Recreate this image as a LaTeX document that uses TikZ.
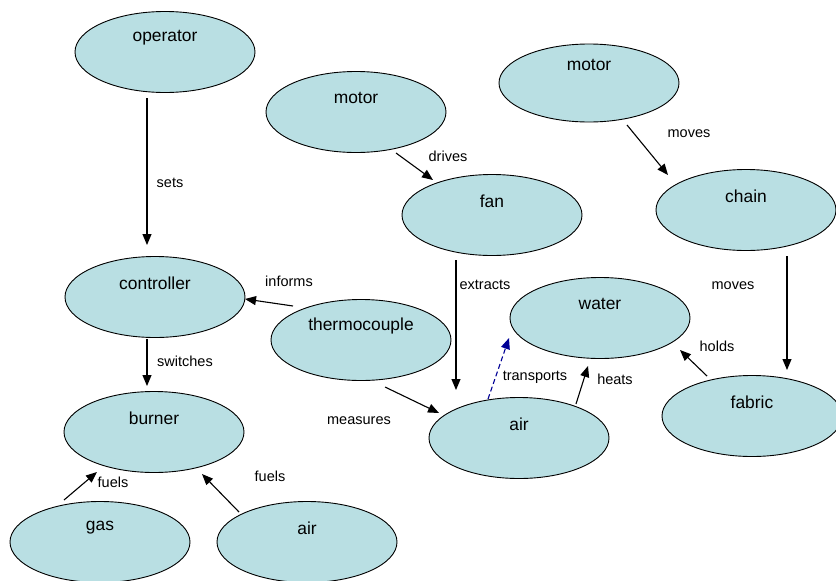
\documentclass[tikz,border=0pt]{standalone}
\usepackage{fontspec}
\setmainfont{Liberation Sans}
\usetikzlibrary{shapes.geometric,arrows.meta}
\definecolor{conceptfill}{RGB}{185,223,227}
\definecolor{linkblue}{RGB}{0,0,150}
\begin{document}
\begin{tikzpicture}[x=1pt,y=-1pt,
  concept/.style={ellipse, draw=black, line width=0.9pt, fill=conceptfill,
    minimum width=180pt, minimum height=81pt, inner sep=0pt},
  ctext/.style={font=\fontsize{17.4pt}{19pt}\selectfont, inner sep=0pt, anchor=base, yshift=14pt},
  lbl/.style={font=\fontsize{14.5pt}{16pt}\selectfont, inner sep=0pt},
  link/.style={line width=1.1pt, -{Triangle[length=11pt,width=9pt]}},
  dlink/.style={link, draw=linkblue, dashed, dash pattern=on 5pt off 3pt}]
\useasboundingbox (0,0) rectangle (836,581);

% concepts
\node[concept, label={[ctext]center:operator}] (op) at (165,52) {};
\node[concept, label={[ctext]center:motor}] (mA) at (356,112) {};
\node[concept, label={[ctext]center:fan}] (fan) at (492,215) {};
\node[concept, minimum height=78pt, label={[ctext,yshift=4pt]center:motor}] (mB) at (589,83) {};
\node[concept, label={[ctext]center:chain}] (chain) at (746,210) {};
\node[concept, label={[ctext]center:controller}] (ctrl) at (155,297) {};
\node[concept, label={[ctext]center:thermocouple}] (thermo) at (361,340) {};
\node[concept, label={[ctext]center:water}] (water) at (600,318) {};
\node[concept, label={[ctext]center:fabric}] (fabric) at (752,416) {};
\node[concept, label={[ctext]center:burner}] (burner) at (154,432) {};
\node[concept, label={[ctext]center:air}] (airM) at (519,438) {};
\node[concept, label={[ctext]center:gas}] (gas) at (100,542) {};
\node[concept, label={[ctext]center:air}] (airB) at (307,542) {};

% links
\draw[link] ([shift={(-18,46)}]op.center) -- ([shift={(-8,-52)}]ctrl.center);
\draw[link] ([shift={(40,41)}]mA.center) -- ([shift={(-59,-35)}]fan.center);
\draw[link] ([shift={(38,42)}]mB.center) -- ([shift={(-78,-35)}]chain.center);
\draw[link] ([shift={(41,46)}]chain.center) -- ([shift={(35,-46)}]fabric.center);
\draw[link] ([shift={(-36,45)}]fan.center) -- ([shift={(-63,-48)}]airM.center);
\draw[link] ([shift={(-68,-34)}]thermo.center) -- ([shift={(90,2)}]ctrl.center);
\draw[link] ([shift={(-8,42)}]ctrl.center) -- ([shift={(-7,-46)}]burner.center);
\draw[link] ([shift={(24,47)}]thermo.center) -- ([shift={(-80,-25)}]airM.center);
\draw[dlink] ([shift={(-31,-39)}]airM.center) -- ([shift={(-91,20)}]water.center);
\draw[link] ([shift={(57,-34)}]airM.center) -- ([shift={(-12,48)}]water.center);
\draw[link] ([shift={(-45,-40)}]fabric.center) -- ([shift={(80,32)}]water.center);
\draw[link] ([shift={(-36,-42)}]gas.center) -- ([shift={(-57,40)}]burner.center);
\draw[link] ([shift={(-68,-30)}]airB.center) -- ([shift={(48,42)}]burner.center);

% link labels
\node[lbl] (lsets) at (170,183) {sets};
\node[lbl] (ldrives) at (448,156) {drives};
\node[lbl] (lmovesA) at (689,134) {moves};
\node[lbl] (lmovesB) at (733,286) {moves};
\node[lbl] (lextracts) at (485,285) {extracts};
\node[lbl] (linforms) at (289,281) {informs};
\node[lbl] (lswitches) at (185,361) {switches};
\node[lbl] (lmeasures) at (359,421) {measures};
\node[lbl] (ltransports) at (535,377) {transports};
\node[lbl] (lheats) at (615,379) {heats};
\node[lbl] (lholds) at (717,346) {holds};
\node[lbl] (lfuelsA) at (113,482) {fuels};
\node[lbl] (lfuelsB) at (270,476) {fuels};
\end{tikzpicture}
\end{document}
